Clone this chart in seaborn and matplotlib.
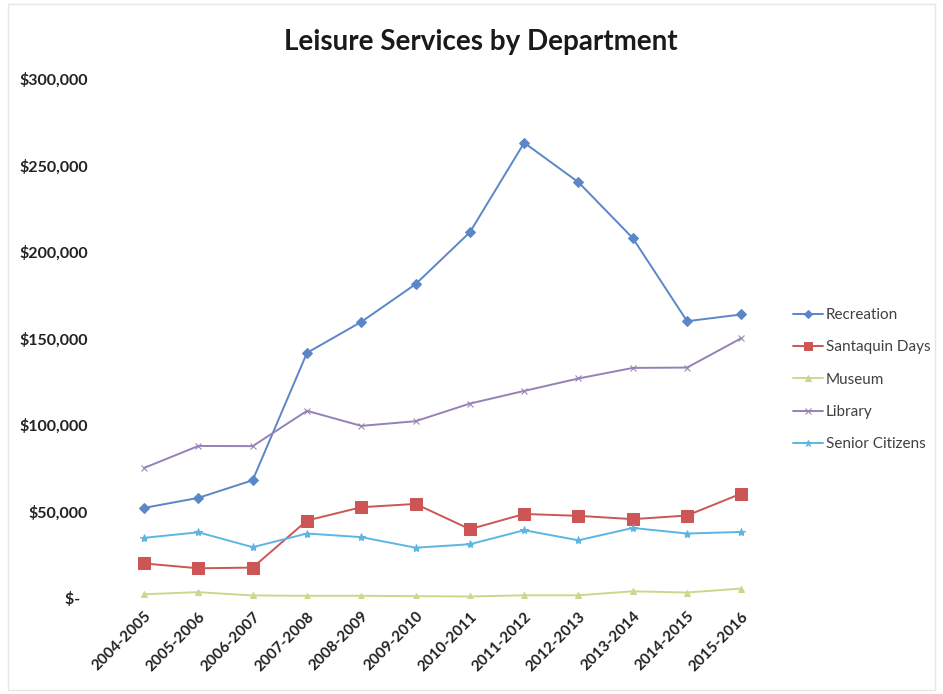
import pandas as pd
import seaborn as sns
import matplotlib.pyplot as plt
from matplotlib.ticker import FuncFormatter

# Fiscal years on the category axis
years = ['2004-2005', '2005-2006', '2006-2007', '2007-2008', '2008-2009', '2009-2010',
         '2010-2011', '2011-2012', '2012-2013', '2013-2014', '2014-2015', '2015-2016']

# Spending per department
recreation = [52200, 58000, 68200, 141800, 159700, 181500, 211500, 263200, 240400, 208100, 160100, 164000]
santaquin_days = [20100, 17300, 17700, 44900, 52600, 54500, 39900, 48700, 47600, 45700, 47800, 60500]
museum = [2300, 3500, 1600, 1400, 1400, 1200, 1000, 1700, 1700, 4000, 3300, 5600]
library = [75300, 88000, 87900, 108300, 99600, 102300, 112500, 119800, 127000, 133100, 133300, 150300]
senior_citizens = [34900, 38100, 29500, 37400, 35300, 29200, 31200, 39300, 33500, 40600, 37400, 38300]

y_ticks = [0, 50000, 100000, 150000, 200000, 250000, 300000]

series = [
    ('Recreation', recreation, '#5b86c8', 'D', 5),
    ('Santaquin Days', santaquin_days, '#cc5656', 's', 8),
    ('Museum', museum, '#c9d98c', '^', 5),
    ('Library', library, '#9681b6', 'x', 5),
    ('Senior Citizens', senior_citizens, '#5db6e2', '*', 6),
]

sns.set_style('white')
plt.rcParams['font.family'] = ['Lato', 'DejaVu Sans']

fig = plt.figure(figsize=(9.43, 6.94), dpi=100)
ax = fig.add_axes([0.124, 0.138, 0.691, 0.748])

for name, vals, color, mk, ms in series:
    df = pd.DataFrame({'year': years, 'amount': vals})
    sns.lineplot(data=df, x='year', y='amount', ax=ax, color=color, marker=mk,
                 markersize=ms, markeredgecolor=color, linewidth=1.4, label=name,
                 sort=False)

ax.set_xlim(-0.5, len(years) - 0.5)
ax.set_ylim(0, 300000)
ax.set_yticks(y_ticks)
ax.yaxis.set_major_formatter(FuncFormatter(lambda v, p: '$-  ' if v == 0 else f'${v:,.0f}'))
ax.set_xlabel('')
ax.set_ylabel('')
for s in ax.spines.values():
    s.set_visible(False)
ax.tick_params(axis='both', length=0)
ax.tick_params(axis='y', pad=21)
plt.setp(ax.get_yticklabels(), fontsize=11.5, fontweight='bold', color='#222222')
plt.setp(ax.get_xticklabels(), fontsize=11, fontweight='bold', color='#222222',
         rotation=45, ha='right', rotation_mode='anchor')
ax.tick_params(axis='x', pad=8)

fig.suptitle('Leisure Services by Department', x=0.51, y=0.958, fontsize=20,
             fontweight='bold', color='#1a1a1a')

ax.get_legend().remove()
handles, labels = ax.get_legend_handles_labels()
fig.legend(handles, labels, loc='center left', bbox_to_anchor=(0.826, 0.453),
           frameon=False, fontsize=11, labelspacing=1.2, handlelength=2.0,
           handletextpad=0.15, labelcolor='#404040', markerscale=0.8)

# faint chart border
fig.patches.append(plt.Rectangle((0.008, 0.006), 0.984, 0.988, transform=fig.transFigure,
                                 fill=False, edgecolor='#e6e6e6', linewidth=1))

fig.savefig('out.png', dpi=100, facecolor='white')
